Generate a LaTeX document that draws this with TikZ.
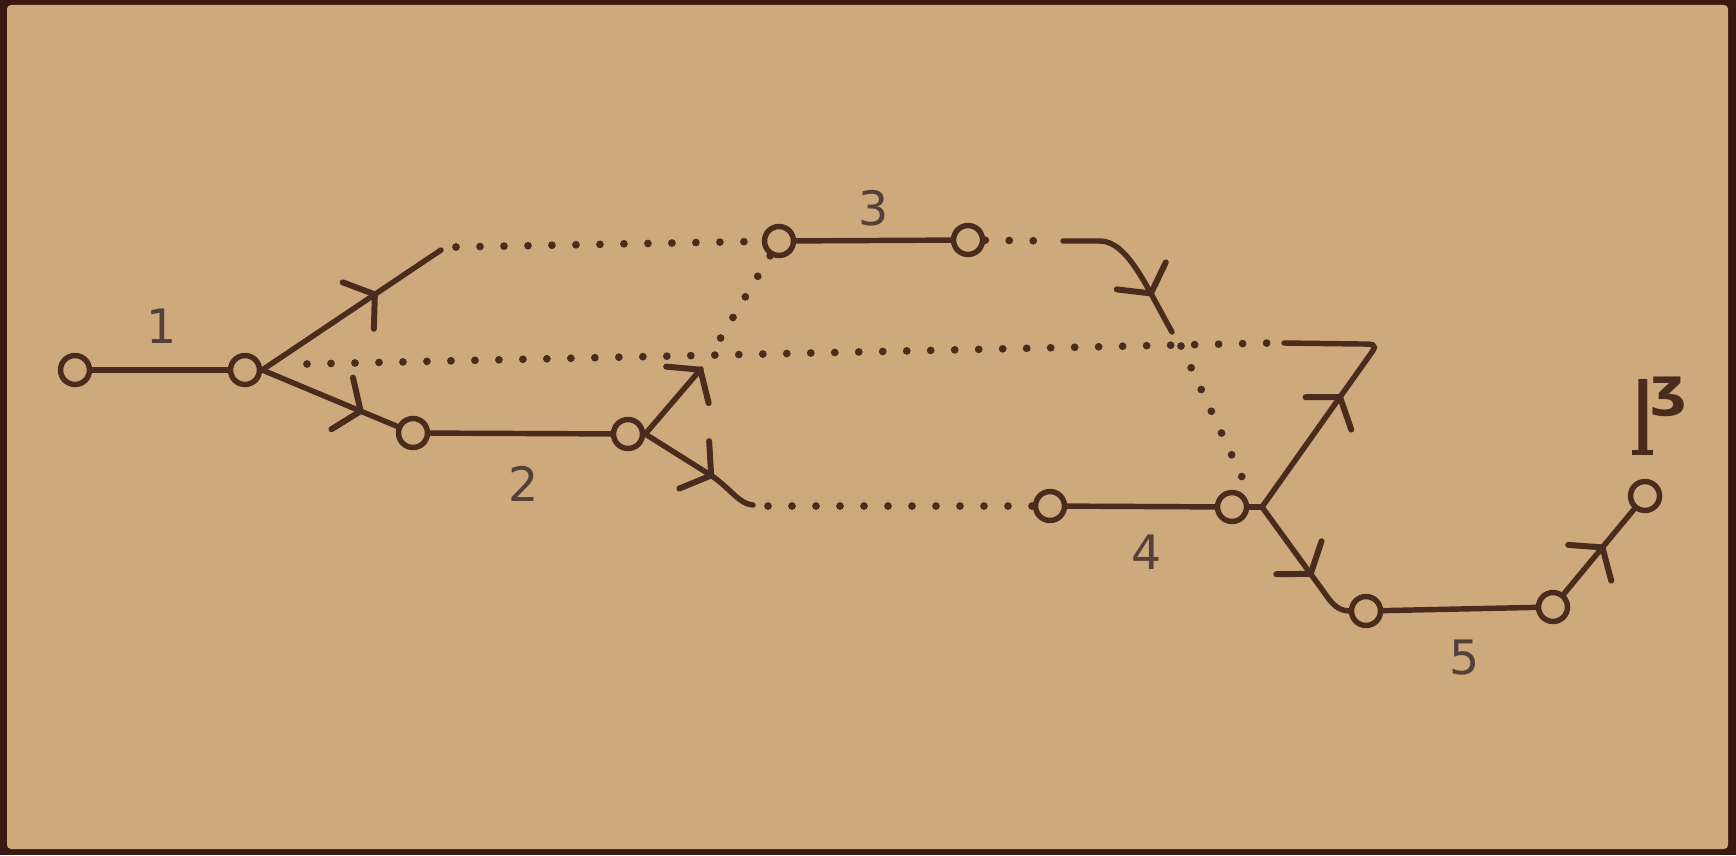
\documentclass[tikz,border=0pt]{standalone}
\usepackage{fontspec}
\setmainfont{DejaVu Sans}
\usetikzlibrary{decorations.markings}
\definecolor{ink}{HTML}{4A2C1E}
\definecolor{labcol}{HTML}{54403A}
\definecolor{paper}{HTML}{CDA97C}
\definecolor{framecol}{HTML}{3A1A10}
\tikzset{
  stn/.style={circle, draw=ink, line width=3.1pt, minimum size=0.58cm, inner sep=0pt},
  track/.style={draw=ink, line width=3.1pt, line cap=round},
  dots/.style={draw=ink, line width=4.4pt, line cap=round, dash pattern=on 0pt off 0.48cm},
  lab/.style={text=labcol, font=\fontsize{27}{27}\selectfont, inner sep=0pt},
  symlab/.style={text=ink, font=\fontsize{27}{27}\selectfont, inner sep=0pt},
  headat/.style={postaction={decorate, decoration={markings, mark=at position #1 with {\draw[ink, line width=3.4pt, line cap=round, line join=round] (-0.4cm,0.56cm) -- (0,0) -- (-0.4cm,-0.56cm);}}}},
}
\begin{document}
\begin{tikzpicture}[x=0.02cm, y=-0.02cm]
\useasboundingbox (0,0) rectangle (1736,855);
\fill[framecol] (0,0) rectangle (1736,855);
\fill[paper, rounded corners=0.08cm] (7,5) rectangle (1728,849);

% stations
\node[stn] (n1) at (75,370) {};
\node[stn] (n2) at (245,370) {};
\node[stn] (n3) at (413,433) {};
\node[stn] (n4) at (628,434) {};
\node[stn] (n5) at (779,241) {};
\node[stn] (n6) at (968,240) {};
\node[stn] (n7) at (1050,506) {};
\node[stn] (n8) at (1232,507) {};
\node[stn] (n9) at (1366,611) {};
\node[stn] (n10) at (1553,607) {};
\node[stn] (n11) at (1645,496) {};

% free points
\coordinate (a1) at (441,250);
\coordinate (d1) at (456,247);
\coordinate (h1) at (307,364);
\coordinate (h2) at (1270,343);
\coordinate (c1) at (1284,343);
\coordinate (c2) at (1372,352);
\coordinate (j8) at (1262,507);
\coordinate (q1) at (711,354);
\coordinate (e6) at (1057,241);
\coordinate (s1) at (1063,241);
\coordinate (s2) at (1172,332);
\coordinate (x1) at (1181,346);
\coordinate (x2) at (1248,490);
\coordinate (t4) at (701,369);
\coordinate (b4) at (753,505);
\coordinate (b5) at (768,506);

% connectors
\draw[track] (n1) -- (n2);
\draw[track, headat=0.63] (n2.east) -- (a1);
\draw[track, headat=0.73] (n2.east) -- (n3);
\draw[dots] (d1) -- (n5);
\draw[dots] (h1) -- (h2);
\draw[dots] (n5) -- (q1);
\draw[track] (n5) -- (n6);
\draw[dots] (n6) -- (e6);
\draw[track, headat=0.72] (s1) -- (1100,241) .. controls (1128,241) and (1148,290) .. (s2);
\draw[dots] (x1) -- (x2);
\draw[track] (n3) -- (n4);
\draw[track, headat=0.99] (n4.east) -- (t4);
\draw[track, headat=0.6] (n4.east) -- (712,476) .. controls (732,490) and (739,504) .. (b4);
\draw[dots] (b5) -- (n7);
\draw[track] (n7) -- (n8);
\draw[track] (n8) -- (j8);
\draw[track, headat=0.71] (j8) -- (c2);
\draw[track] (c2) .. controls (1378,344) and (1372,344) .. (1360,344) -- (c1);
\draw[track, headat=0.6] (j8) -- (1318,584) .. controls (1330,600) and (1334,610) .. (n9.west);
\draw[track] (n9) -- (n10);
\draw[track, headat=0.55] (n10) -- (n11);

% labels
\node[lab] (l1) at (162,326) {1};
\node[lab] (l2) at (524,484) {2};
\node[lab] (l3) at (874,208) {3};
\node[lab] (l4) at (1147,552) {4};
\node[lab] (l5) at (1465,658) {5};
\node[symlab, anchor=base] (symA) at (1643,455) {\makebox[0pt][l]{\hspace{-1.2pt}\rule{12pt}{3pt}}\scalebox{1}[2.2]{\bfseries I}};
\node[symlab, anchor=west] (symB) at (1650,397) {\scalebox{1.2}[1.1]{\bfseries ʒ}};
\end{tikzpicture}
\end{document}
